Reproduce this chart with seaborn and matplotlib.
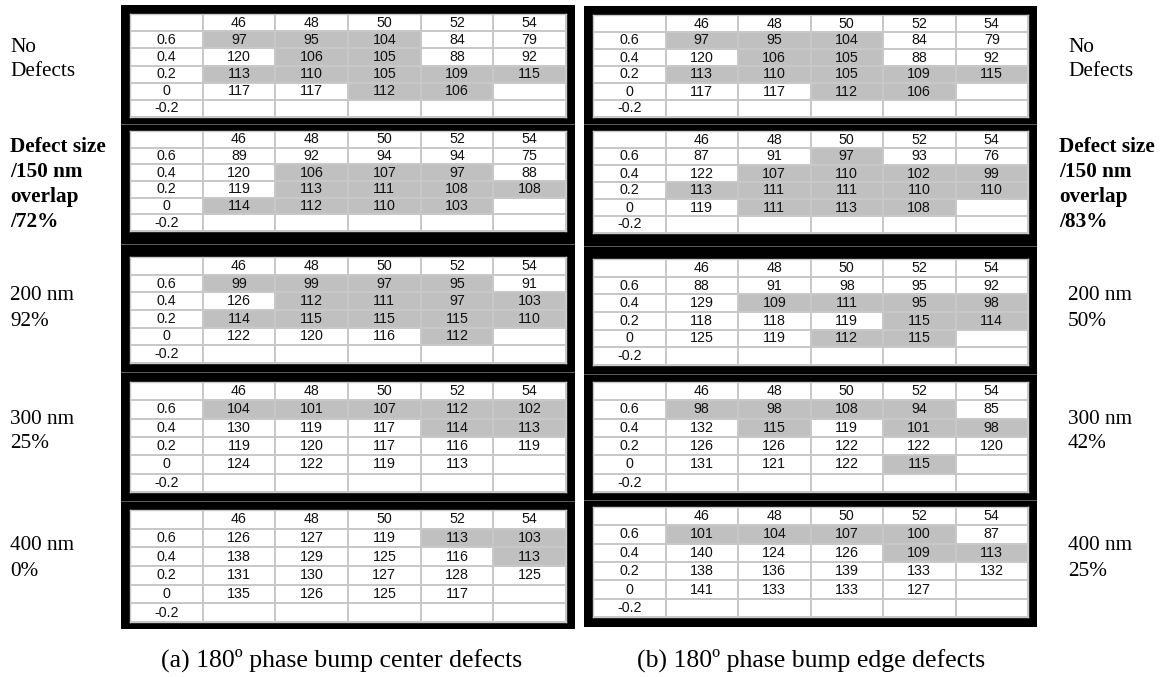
import numpy as np
import matplotlib
matplotlib.use("Agg")
import matplotlib.pyplot as plt
from matplotlib.colors import ListedColormap
from matplotlib.patches import Rectangle
import seaborn as sns

# ---------------- data ----------------
col_labels = ["46", "48", "50", "52", "54"]
row_labels = ["0.6", "0.4", "0.2", "0", "-0.2"]

# (a) center defects
a_none = [[97, 95, 104, 84, 79], [120, 106, 105, 88, 92], [113, 110, 105, 109, 115], [117, 117, 112, 106, None], [None]*5]
a_150 = [[89, 92, 94, 94, 75], [120, 106, 107, 97, 88], [119, 113, 111, 108, 108], [114, 112, 110, 103, None], [None]*5]
a_200 = [[99, 99, 97, 95, 91], [126, 112, 111, 97, 103], [114, 115, 115, 115, 110], [122, 120, 116, 112, None], [None]*5]
a_300 = [[104, 101, 107, 112, 102], [130, 119, 117, 114, 113], [119, 120, 117, 116, 119], [124, 122, 119, 113, None], [None]*5]
a_400 = [[126, 127, 119, 113, 103], [138, 129, 125, 116, 113], [131, 130, 127, 128, 125], [135, 126, 125, 117, None], [None]*5]

# (b) edge defects
b_none = [[97, 95, 104, 84, 79], [120, 106, 105, 88, 92], [113, 110, 105, 109, 115], [117, 117, 112, 106, None], [None]*5]
b_150 = [[87, 91, 97, 93, 76], [122, 107, 110, 102, 99], [113, 111, 111, 110, 110], [119, 111, 113, 108, None], [None]*5]
b_200 = [[88, 91, 98, 95, 92], [129, 109, 111, 95, 98], [118, 118, 119, 115, 114], [125, 119, 112, 115, None], [None]*5]
b_300 = [[98, 98, 108, 94, 85], [132, 115, 119, 101, 98], [126, 126, 122, 122, 120], [131, 121, 122, 115, None], [None]*5]
b_400 = [[101, 104, 107, 100, 87], [140, 124, 126, 109, 113], [138, 136, 139, 133, 132], [141, 133, 133, 127, None], [None]*5]

# shaded (grey) cells, 1 = grey
a_none_sh = [[1, 1, 1, 0, 0], [0, 1, 1, 0, 0], [1, 1, 1, 1, 1], [0, 0, 1, 1, 0], [0]*5]
a_150_sh = [[0, 0, 0, 0, 0], [0, 1, 1, 1, 0], [0, 1, 1, 1, 1], [1, 1, 1, 1, 0], [0]*5]
a_200_sh = [[1, 1, 1, 1, 0], [0, 1, 1, 1, 1], [1, 1, 1, 1, 1], [0, 0, 0, 1, 0], [0]*5]
a_300_sh = [[1, 1, 1, 1, 1], [0, 0, 0, 1, 1], [0, 0, 0, 0, 0], [0, 0, 0, 0, 0], [0]*5]
a_400_sh = [[0, 0, 0, 1, 1], [0, 0, 0, 0, 1], [0, 0, 0, 0, 0], [0, 0, 0, 0, 0], [0]*5]

b_none_sh = [[1, 1, 1, 0, 0], [0, 1, 1, 0, 0], [1, 1, 1, 1, 1], [0, 0, 1, 1, 0], [0]*5]
b_150_sh = [[0, 0, 1, 0, 0], [0, 1, 1, 1, 1], [1, 1, 1, 1, 1], [0, 1, 1, 1, 0], [0]*5]
b_200_sh = [[0, 0, 0, 0, 0], [0, 1, 1, 1, 1], [0, 0, 0, 1, 1], [0, 0, 1, 1, 0], [0]*5]
b_300_sh = [[1, 1, 1, 1, 0], [0, 1, 0, 1, 1], [0, 0, 0, 0, 0], [0, 0, 0, 1, 0], [0]*5]
b_400_sh = [[1, 1, 1, 1, 0], [0, 0, 0, 1, 1], [0, 0, 0, 0, 0], [0, 0, 0, 0, 0], [0]*5]

left_labels = [["No", "Defects"], ["Defect size", "/150 nm", "overlap", "/72%"],
               ["200 nm", "92%"], ["300 nm", "25%"], ["400 nm", "0%"]]
right_labels = [["No", "Defects"], ["Defect size", "/150 nm", "overlap", "/83%"],
                ["200 nm", "50%"], ["300 nm", "42%"], ["400 nm", "25%"]]
captions = ["(a) 180º phase bump center defects", "(b) 180º phase bump edge defects"]

tables_a = [(a_none, a_none_sh), (a_150, a_150_sh), (a_200, a_200_sh), (a_300, a_300_sh), (a_400, a_400_sh)]
tables_b = [(b_none, b_none_sh), (b_150, b_150_sh), (b_200, b_200_sh), (b_300, b_300_sh), (b_400, b_400_sh)]

# ---------------- layout (pixels) ----------------
W, H = 1162, 677
sns.set_theme(style="white")
plt.rcParams['font.family'] = ['Liberation Sans', 'DejaVu Sans']

fig = plt.figure(figsize=(W / 100, H / 100), dpi=100)
fig.patch.set_facecolor("white")

GREY = "#c0c0c0"
LINE = "#c8c8c8"
cmap = ListedColormap(["white", GREY])

cols = [
    dict(tx=(130, 566), fx=(121, 575), tops=[14, 131, 257, 382, 510], bots=[117, 231, 363, 492, 622],
         ftop=5, fbot=629, tables=tables_a),
    dict(tx=(593, 1028), fx=(584, 1037), tops=[15, 131, 259, 382, 507], bots=[117, 233, 365, 492, 617],
         ftop=6, fbot=627, tables=tables_b),
]


def px_rect(x0, y0, x1, y1, **kw):
    r = Rectangle((x0 / W, 1 - y1 / H), (x1 - x0) / W, (y1 - y0) / H,
                  transform=fig.transFigure, **kw)
    fig.add_artist(r)
    return r


for c in cols:
    n = len(c["tops"])
    bounds = [c["ftop"]] + [round((c["bots"][i] + c["tops"][i + 1]) / 2) for i in range(n - 1)] + [c["fbot"]]
    for i in range(n):
        px_rect(c["fx"][0], bounds[i], c["fx"][1], bounds[i + 1], facecolor="black", edgecolor="none", zorder=-5)
    for b in bounds[1:-1]:
        px_rect(c["fx"][0], b, c["fx"][1], b + 1, facecolor="#5a5a5a", edgecolor="none", zorder=-4)

    for i, (vals, shade) in enumerate(c["tables"]):
        x0, x1 = c["tx"]
        y0, y1 = c["tops"][i], c["bots"][i]
        ax = fig.add_axes([x0 / W, 1 - y1 / H, (x1 - x0) / W, (y1 - y0) / H])
        sh = np.zeros((6, 6))
        sh[1:, 1:] = np.array(shade)
        ann = np.full((6, 6), "", dtype=object)
        ann[0, 1:] = col_labels
        ann[1:, 0] = row_labels
        for r in range(5):
            for k in range(5):
                v = vals[r][k]
                ann[r + 1, k + 1] = "" if v is None else str(v)
        sns.heatmap(sh, ax=ax, cmap=cmap, vmin=0, vmax=1, cbar=False,
                    annot=ann, fmt="", linewidths=1.2, linecolor=LINE,
                    xticklabels=False, yticklabels=False,
                    annot_kws=dict(color="#111111", fontsize=10.3, family="Liberation Sans"))
        ax.set_xlim(0, 6)
        ax.set_ylim(6, 0)
        for s in ax.spines.values():
            s.set_visible(True)
            s.set_color(LINE)
            s.set_linewidth(1.0)

serif = ['Liberation Serif', 'DejaVu Serif']
block_first = [47, 147, 296, 419, 546]
for i in range(5):
    bold = (i == 1)
    for labs, x in ((left_labels, 10), (right_labels, 1059 if bold else 1068)):
        for j, t in enumerate(labs[i]):
            y = block_first[i] + 25 * j
            fig.text(x / W, 1 - y / H, t, ha="left", va="center", fontsize=15.3,
                     family=serif, fontweight="bold" if bold else "normal", color="black")

fig.text(342 / W, 1 - 660 / H, captions[0], ha="center", va="center", fontsize=18.5, family=serif, color="black")
fig.text(811 / W, 1 - 660 / H, captions[1], ha="center", va="center", fontsize=18.5, family=serif, color="black")

fig.savefig("out.png", dpi=100, facecolor="white")
